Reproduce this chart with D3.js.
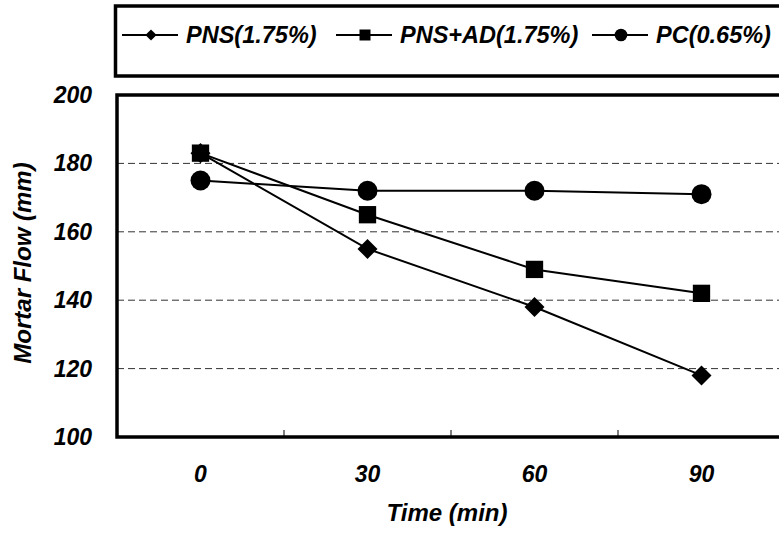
<!DOCTYPE html>
<html>
<head>
<meta charset="utf-8">
<script src="https://cdn.jsdelivr.net/npm/d3@7"></script>
<style>
  body { margin: 0; background: #fff; }
  svg text { font-family: "Liberation Sans", Arial, sans-serif; font-weight: bold; font-style: italic; }
</style>
</head>
<body>
<svg></svg>
<script>
var WIDTH = 779;
var HEIGHT = 533;

var times = ["0", "30", "60", "90"];
var pns = [183, 155, 138, 118];
var pnsAd = [183, 165, 149, 142];
var pc = [175, 172, 172, 171];
var yTicks = [100, 120, 140, 160, 180, 200];
var gridTicks = [120, 140, 160, 180];

var series = [
    {name: "PNS(1.75%)", values: pns, symbol: d3.symbolDiamond2, size: 256, legendSize: 80},
    {name: "PNS+AD(1.75%)", values: pnsAd, symbol: d3.symbolSquare, size: 300, legendSize: 121},
    {name: "PC(0.65%)", values: pc, symbol: d3.symbolCircle, size: 314, legendSize: 125}
];

var plotLeft = 117, plotRight = 785, plotTop = 95, plotBottom = 437;

var svg = d3.select("svg")
    .attr("width", WIDTH)
    .attr("height", HEIGHT);

var x = d3.scaleBand()
    .domain(times)
    .range([plotLeft, plotRight]);

var y = d3.scaleLinear()
    .domain([100, 200])
    .range([plotBottom, plotTop]);

// dashed grid lines
svg.append("g")
    .selectAll("line")
    .data(gridTicks)
    .enter()
    .append("line")
    .attr("x1", plotLeft)
    .attr("x2", WIDTH)
    .attr("y1", function(d) { return y(d); })
    .attr("y2", function(d) { return y(d); })
    .attr("stroke", "#333")
    .attr("stroke-width", 1)
    .attr("stroke-dasharray", "7,4");

// frame: top, left and bottom (right edge is cut off)
svg.append("path")
    .attr("d", "M" + WIDTH + "," + plotTop + "H" + plotLeft + "V" + plotBottom + "H" + WIDTH)
    .attr("fill", "none")
    .attr("stroke", "#000")
    .attr("stroke-width", 3.5);

// x ticks between categories
svg.append("g")
    .selectAll("line")
    .data(times.slice(1))
    .enter()
    .append("line")
    .attr("x1", function(d) { return x(d); })
    .attr("x2", function(d) { return x(d); })
    .attr("y1", plotBottom)
    .attr("y2", plotBottom - 7)
    .attr("stroke", "#000")
    .attr("stroke-width", 1);

// tick labels
svg.append("g")
    .selectAll("text")
    .data(times)
    .enter()
    .append("text")
    .attr("x", function(d) { return x(d) + x.bandwidth() / 2; })
    .attr("y", 482)
    .attr("text-anchor", "middle")
    .attr("font-size", 23)
    .text(function(d) { return d; });

svg.append("g")
    .selectAll("text")
    .data(yTicks)
    .enter()
    .append("text")
    .attr("x", 92)
    .attr("y", function(d) { return y(d) + 8; })
    .attr("text-anchor", "end")
    .attr("font-size", 23)
    .text(function(d) { return d; });

// axis titles
svg.append("text")
    .attr("x", 447)
    .attr("y", 521)
    .attr("text-anchor", "middle")
    .attr("font-size", 24)
    .text("Time (min)");

svg.append("text")
    .attr("transform", "translate(31,263) rotate(-90)")
    .attr("text-anchor", "middle")
    .attr("font-size", 24)
    .text("Mortar Flow (mm)");

// lines and markers
var line = d3.line()
    .x(function(d, i) { return x(times[i]) + x.bandwidth() / 2; })
    .y(function(d) { return y(d); });

series.forEach(function(s) {
    svg.append("path")
        .datum(s.values)
        .attr("d", line)
        .attr("fill", "none")
        .attr("stroke", "#000")
        .attr("stroke-width", 2);

    svg.append("g")
        .selectAll("path")
        .data(s.values)
        .enter()
        .append("path")
        .attr("d", d3.symbol().type(s.symbol).size(s.size))
        .attr("transform", function(d, i) {
            return "translate(" + (x(times[i]) + x.bandwidth() / 2) + "," + y(d) + ")";
        })
        .attr("fill", "#000");
});

// legend
svg.append("path")
    .attr("d", "M" + WIDTH + ",6H" + (plotLeft - 1.5) + "V76H" + WIDTH)
    .attr("fill", "none")
    .attr("stroke", "#000")
    .attr("stroke-width", 3.5);

var legendX = [122, 336, 592];
var legend = svg.append("g")
    .selectAll("g")
    .data(series)
    .enter()
    .append("g")
    .attr("transform", function(d, i) { return "translate(" + legendX[i] + ",35)"; });

legend.append("line")
    .attr("x1", 0)
    .attr("x2", 56)
    .attr("stroke", "#000")
    .attr("stroke-width", 2);

legend.append("path")
    .attr("d", function(d) { return d3.symbol().type(d.symbol).size(d.legendSize)(); })
    .attr("transform", "translate(29,0)")
    .attr("fill", "#000");

legend.append("text")
    .attr("x", 64)
    .attr("y", 8)
    .attr("font-size", 23.5)
    .text(function(d) { return d.name; });
</script>
</body>
</html>
